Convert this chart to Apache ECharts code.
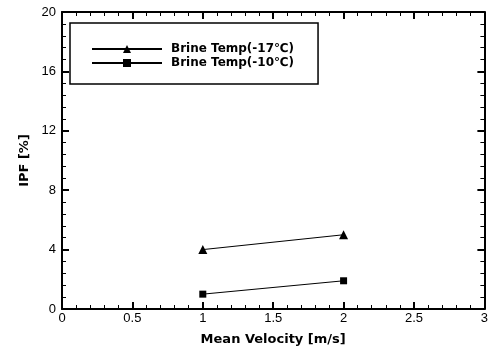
<!DOCTYPE html>
<html>
<head>
<meta charset="utf-8">
<script src="https://cdn.jsdelivr.net/npm/echarts@6/dist/echarts.min.js"></script>
<style>
  html, body { margin: 0; padding: 0; background: #fff; }
  #main { width: 491px; height: 351px; }
</style>
</head>
<body>
<div id="main"></div>
<script>
// data
var velocity = [1, 2];
var ipfMinus17 = [4.0, 5.0];
var ipfMinus10 = [1.0, 1.9];
var seriesNames = ['Brine Temp(-17\u2103)', 'Brine Temp(-10\u2103)'];

var myChart = echarts.init(document.getElementById('main'));

var font = 'Liberation Sans, Arial, sans-serif';
var boldFont = 'DejaVu Sans, sans-serif';
var axisCommon = {
  axisLine: { show: true, onZero: false, lineStyle: { color: '#000', width: 2 } },
  axisTick: { show: true, inside: true, length: 7, lineStyle: { color: '#000', width: 2 } },
  minorTick: { show: true, splitNumber: 5, length: 4, lineStyle: { color: '#000', width: 1 } },
  splitLine: { show: false }
};

myChart.setOption({
  animation: false,
  grid: { left: 62, right: 6, top: 12, bottom: 38 },
  legend: {
    orient: 'vertical',
    left: 70,
    top: 23,
    padding: [19, 24, 14, 21],
    itemGap: 0,
    itemWidth: 70,
    itemHeight: 10,
    borderColor: '#000',
    borderWidth: 1.5,
    textStyle: { fontFamily: boldFont, fontWeight: 'bold', fontSize: 12, lineHeight: 14, color: '#000', padding: [0, 0, 0, 4] },
    data: seriesNames
  },
  xAxis: [
    Object.assign({
      type: 'value', min: 0, max: 3, interval: 0.5,
      name: 'Mean Velocity [m/s]', nameLocation: 'middle', nameGap: 24,
      nameTextStyle: { fontFamily: boldFont, fontWeight: 'bold', fontSize: 13, color: '#000' },
      axisLabel: { fontFamily: font, fontSize: 13, color: '#000', margin: 3 }
    }, axisCommon),
    Object.assign({
      type: 'value', min: 0, max: 3, interval: 0.5, position: 'top',
      axisLabel: { show: false }
    }, axisCommon)
  ],
  yAxis: [
    Object.assign({
      type: 'value', min: 0, max: 20, interval: 4,
      name: 'IPF [%]', nameLocation: 'middle', nameGap: 29,
      nameTextStyle: { fontFamily: boldFont, fontWeight: 'bold', fontSize: 13, color: '#000' },
      axisLabel: { fontFamily: font, fontSize: 13, color: '#000', margin: 6 }
    }, axisCommon),
    Object.assign({
      type: 'value', min: 0, max: 20, interval: 4, position: 'right',
      axisLabel: { show: false }
    }, axisCommon)
  ],
  series: [
    {
      name: seriesNames[0], type: 'line',
      data: velocity.map(function (v, i) { return [v, ipfMinus17[i]]; }),
      symbol: 'triangle', symbolSize: 9,
      itemStyle: { color: '#000' },
      lineStyle: { color: '#000', width: 1 }
    },
    {
      name: seriesNames[1], type: 'line',
      data: velocity.map(function (v, i) { return [v, ipfMinus10[i]]; }),
      symbol: 'rect', symbolSize: 7,
      itemStyle: { color: '#000' },
      lineStyle: { color: '#000', width: 1 }
    }
  ]
});
</script>
</body>
</html>
